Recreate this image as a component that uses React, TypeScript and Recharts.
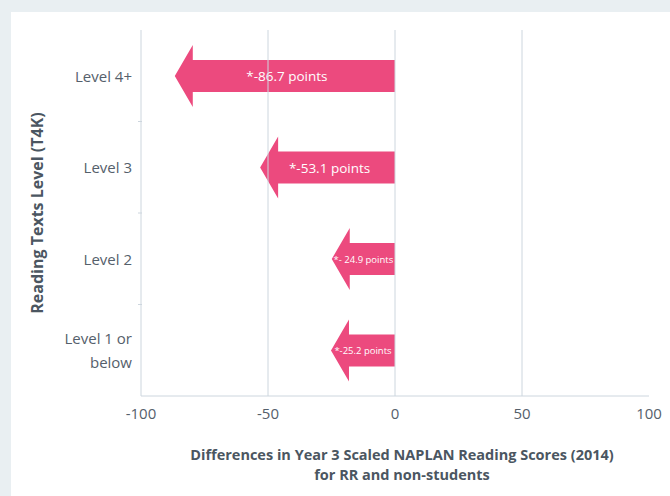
import React from 'react'
import {
  BarChart, Bar, XAxis, YAxis, ReferenceLine, Label,
} from 'recharts'

const categories = ['Level 4+', 'Level 3', 'Level 2', 'Level 1 or below']
const differences = [-86.7, -53.1, -24.9, -25.2]
const arrowLabels = ['*-86.7 points', '*-53.1 points', '*- 24.9 points', '*-25.2 points']
const xTicks = [-100, -50, 0, 50, 100]
const gridValues = [-50, 0, 50]

const PINK = '#EC4A7E'
const TEXT = '#55606b'
const LINE = '#cdd6de'
const FONT = '"Open Sans", "Noto Sans", sans-serif'

const chartData = categories.map((c, i) => ({
  level: c,
  value: differences[i],
  label: arrowLabels[i],
}))

function Arrow(props: any) {
  const { x, y, width, height, payload } = props
  const left = Math.min(x, x + width)
  const right = Math.max(x, x + width)
  const cy = y + height / 2
  const head = 18
  const half = height * 0.26
  const d = [
    `M${right},${cy - half}`,
    `L${left + head},${cy - half}`,
    `L${left + head},${y}`,
    `L${left},${cy}`,
    `L${left + head},${y + height}`,
    `L${left + head},${cy + half}`,
    `L${right},${cy + half}`,
    'Z',
  ].join(' ')
  const small = right - left < 100
  return (
    <g>
      <path d={d} fill={PINK} />
      <text
        x={(left + right) / 2 + (small ? 0 : 2)}
        y={cy}
        fill="#fff"
        fontSize={small ? 9.5 : 13.5}
        fontFamily={FONT}
        textAnchor="middle"
        dominantBaseline="central"
      >
        {payload.label}
      </text>
    </g>
  )
}

function wrap(text: string, max: number): string[] {
  const words = text.split(' ')
  const lines: string[] = []
  let cur = ''
  for (const w of words) {
    const next = cur ? cur + ' ' + w : w
    if (next.length > max && cur) {
      lines.push(cur)
      cur = w
    } else {
      cur = next
    }
  }
  if (cur) lines.push(cur)
  return lines
}

function CategoryTick(props: any) {
  const { x, y, payload, index } = props
  const lines = wrap(String(payload.value), 10)
  const lh = 24
  const startY = y - ((lines.length - 1) * lh) / 2
  const off = payload.offset || 45.75
  return (
    <g>
      {index > 0 && (
        <line x1={x + 5} x2={x + 9} y1={y - off} y2={y - off} stroke={LINE} strokeWidth={1} />
      )}
      <text x={x - 1} y={startY} textAnchor="end" fill={TEXT} fontSize={15} fontFamily={FONT} dominantBaseline="central">
        {lines.map((l, i) => (
          <tspan key={i} x={x - 1} dy={i === 0 ? 0 : lh}>{l}</tspan>
        ))}
      </text>
    </g>
  )
}

export default function App() {
  return (
    <div style={{ position: 'absolute', left: 0, top: 0, width: 670, height: 496, background: '#e9eff2', overflow: 'hidden' }}>
      <div style={{ position: 'absolute', left: 11, top: 12, right: 0, bottom: 0, background: '#fff' }} />
      <div style={{ position: 'absolute', left: 0, top: 0 }}>
        <BarChart
          width={670}
          height={496}
          data={chartData}
          layout="vertical"
          margin={{ top: 30, right: 21, bottom: 0, left: 0 }}
          barSize={62}
        >
          <XAxis
            type="number"
            domain={[-100, 100]}
            ticks={xTicks}
            allowDataOverflow
            height={100}
            stroke={LINE}
            tickLine={false}
            tick={{ fill: TEXT, fontSize: 15, fontFamily: FONT, dy: 4 }}
          >
            <Label
              content={({ viewBox }: any) => {
                const cx = viewBox.x + viewBox.width / 2 + 7
                return (
                  <text textAnchor="middle" fill="#4b5661" fontSize={14.5} fontWeight="bold" fontFamily={FONT}>
                    <tspan x={cx} y={viewBox.y + 64}>Differences in Year 3 Scaled NAPLAN Reading Scores (2014)</tspan>
                    <tspan x={cx} y={viewBox.y + 84}>for RR and non-students</tspan>
                  </text>
                )
              }}
            />
          </XAxis>
          <XAxis
            xAxisId="top"
            orientation="top"
            type="number"
            domain={[-100, 100]}
            height={0}
            tick={false}
            tickLine={false}
            stroke={LINE}
          />
          <YAxis
            type="category"
            dataKey="level"
            width={141}
            stroke={LINE}
            tickLine={false}
            tick={<CategoryTick />}
          >
            <Label
              content={({ viewBox }: any) => {
                const cy = viewBox.y + viewBox.height / 2
                return (
                  <text
                    x={37}
                    y={cy}
                    transform={`rotate(-90, 37, ${cy})`}
                    textAnchor="middle"
                    dominantBaseline="central"
                    fill="#4b5661"
                    fontSize={16}
                    fontWeight="bold"
                    fontFamily={FONT}
                  >
                    Reading Texts Level (T4K)
                  </text>
                )
              }}
            />
          </YAxis>
          {gridValues.map((v) => (
            <ReferenceLine key={v} x={v} stroke={LINE} strokeWidth={1} />
          ))}
          <Bar dataKey="value" shape={<Arrow />} isAnimationActive={false} />
        </BarChart>
      </div>
    </div>
  )
}
